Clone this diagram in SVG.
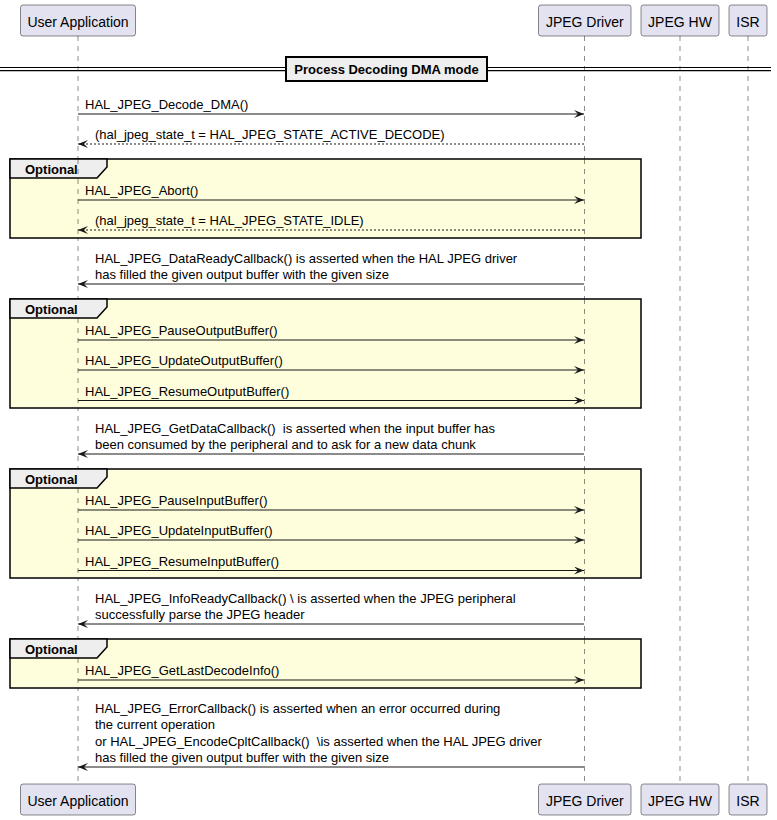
<svg xmlns="http://www.w3.org/2000/svg" width="777" height="820" viewBox="0 0 777 820">
<defs>
<style>
text{font-family:"Liberation Sans",Arial,sans-serif;fill:#000}
.msg{font-size:13px}
.pt{font-size:14px;text-anchor:middle}
.b{font-weight:bold;font-size:13px}
.part{fill:#E2E2F0;stroke:#181818;stroke-width:0.5}
.life{stroke:#181818;stroke-width:0.5;stroke-dasharray:5,5}
.grp{fill:#FEFEDD;stroke:#000;stroke-width:1.5}
.tab{fill:#EEEEEE;stroke:#000;stroke-width:1.5}
.ar{stroke:#181818;stroke-width:1;fill:none;marker-end:url(#ah)}
.ret{stroke:#181818;stroke-width:1;fill:none;stroke-dasharray:2,2;marker-end:url(#ah)}
</style>
<marker id="ah" markerUnits="userSpaceOnUse" markerWidth="11" markerHeight="9" refX="10" refY="4" orient="auto" viewBox="0 0 11 9">
<path d="M0,0 L10,4 L0,8 L4,4 Z" fill="#181818"/>
</marker>
</defs>
<rect width="777" height="820" fill="#FFFFFF"/>

<g id="lifelines">
<line class="life" x1="78" y1="36" x2="78" y2="784"/>
<line class="life" x1="584.5" y1="36" x2="584.5" y2="784"/>
<line class="life" x1="680" y1="36" x2="680" y2="784"/>
<line class="life" x1="748" y1="36" x2="748" y2="784"/>
</g>

<g id="divider">
<line x1="0" y1="67.5" x2="771" y2="67.5" stroke="#000" stroke-width="1.2"/>
<line x1="0" y1="70.7" x2="771" y2="70.7" stroke="#000" stroke-width="1.2"/>
<rect x="286" y="57" width="201" height="24" fill="#EEEEEE" stroke="#000" stroke-width="2"/>
<text class="b" x="386.5" y="74" text-anchor="middle">Process Decoding DMA mode</text>
</g>

<g id="group1">
<rect class="grp" x="10" y="159" width="631" height="79"/>
<path class="tab" d="M10,159 L107,159 L107,167 L97,178 L10,178 Z"/>
<text class="b" x="25" y="173.5">Optional</text>
</g>
<g id="group2">
<rect class="grp" x="10" y="299" width="631" height="109"/>
<path class="tab" d="M10,299 L107,299 L107,307 L97,318 L10,318 Z"/>
<text class="b" x="25" y="313.5">Optional</text>
</g>
<g id="group3">
<rect class="grp" x="10" y="469" width="631" height="109"/>
<path class="tab" d="M10,469 L107,469 L107,477 L97,488 L10,488 Z"/>
<text class="b" x="25" y="483.5">Optional</text>
</g>
<g id="group4">
<rect class="grp" x="10" y="639" width="631" height="49"/>
<path class="tab" d="M10,639 L107,639 L107,647 L97,658 L10,658 Z"/>
<text class="b" x="25" y="653.5">Optional</text>
</g>

<g id="lifelines-over">
<line class="life" x1="78" y1="159" x2="78" y2="238"/>
<line class="life" x1="584.5" y1="159" x2="584.5" y2="238"/>
<line class="life" x1="78" y1="318" x2="78" y2="408"/>
<line class="life" x1="584.5" y1="299" x2="584.5" y2="408"/>
<line class="life" x1="78" y1="488" x2="78" y2="578"/>
<line class="life" x1="584.5" y1="469" x2="584.5" y2="578"/>
<line class="life" x1="78" y1="658" x2="78" y2="688"/>
<line class="life" x1="584.5" y1="639" x2="584.5" y2="688"/>
</g>

<g id="connectors">
<line class="ar" x1="78" y1="114" x2="584" y2="114"/>
<line class="ret" x1="584" y1="144" x2="78" y2="144"/>
<line class="ar" x1="78" y1="200" x2="584" y2="200"/>
<line class="ret" x1="584" y1="230" x2="78" y2="230"/>
<line class="ar" x1="584" y1="284" x2="78" y2="284"/>
<line class="ar" x1="78" y1="340" x2="584" y2="340"/>
<line class="ar" x1="78" y1="370" x2="584" y2="370"/>
<line class="ar" x1="78" y1="400.5" x2="584" y2="400.5"/>
<line class="ar" x1="584" y1="454" x2="78" y2="454"/>
<line class="ar" x1="78" y1="510" x2="584" y2="510"/>
<line class="ar" x1="78" y1="540" x2="584" y2="540"/>
<line class="ar" x1="78" y1="570.5" x2="584" y2="570.5"/>
<line class="ar" x1="584" y1="624" x2="78" y2="624"/>
<line class="ar" x1="78" y1="680" x2="584" y2="680"/>
<line class="ar" x1="584" y1="767" x2="78" y2="767"/>
</g>

<g id="labels">
<text class="msg" x="85" y="109">HAL_JPEG_Decode_DMA()</text>
<text class="msg" x="95" y="139">(hal_jpeg_state_t = HAL_JPEG_STATE_ACTIVE_DECODE)</text>
<text class="msg" x="85" y="195">HAL_JPEG_Abort()</text>
<text class="msg" x="95" y="225">(hal_jpeg_state_t = HAL_JPEG_STATE_IDLE)</text>
<text class="msg" x="95" y="262.5">HAL_JPEG_DataReadyCallback() is asserted when the HAL JPEG driver</text>
<text class="msg" x="95" y="279">has filled the given output buffer with the given size</text>
<text class="msg" x="85" y="335">HAL_JPEG_PauseOutputBuffer()</text>
<text class="msg" x="85" y="365">HAL_JPEG_UpdateOutputBuffer()</text>
<text class="msg" x="85" y="395.5">HAL_JPEG_ResumeOutputBuffer()</text>
<text class="msg" x="95" y="432.5" xml:space="preserve">HAL_JPEG_GetDataCallback()  is asserted when the input buffer has</text>
<text class="msg" x="95" y="449">been consumed by the peripheral and to ask for a new data chunk</text>
<text class="msg" x="85" y="505">HAL_JPEG_PauseInputBuffer()</text>
<text class="msg" x="85" y="535">HAL_JPEG_UpdateInputBuffer()</text>
<text class="msg" x="85" y="565.5">HAL_JPEG_ResumeInputBuffer()</text>
<text class="msg" x="95" y="602.5">HAL_JPEG_InfoReadyCallback() \ is asserted when the JPEG peripheral</text>
<text class="msg" x="95" y="619">successfully parse the JPEG header</text>
<text class="msg" x="85" y="675">HAL_JPEG_GetLastDecodeInfo()</text>
<text class="msg" x="95" y="712.5">HAL_JPEG_ErrorCallback() is asserted when an error occurred during</text>
<text class="msg" x="95" y="729">the current operation</text>
<text class="msg" x="95" y="745.5" xml:space="preserve">or HAL_JPEG_EncodeCpltCallback()  \is asserted when the HAL JPEG driver</text>
<text class="msg" x="95" y="762">has filled the given output buffer with the given size</text>
</g>

<g id="user-application">
<rect class="part" x="20.5" y="5" width="115" height="31" rx="2.5"/>
<text class="pt" x="78" y="26.5">User Application</text>
<rect class="part" x="20.5" y="784" width="115" height="31" rx="2.5"/>
<text class="pt" x="78" y="805.5">User Application</text>
</g>
<g id="jpeg-driver">
<rect class="part" x="538.5" y="5" width="92.5" height="31" rx="2.5"/>
<text class="pt" x="584.8" y="26.5">JPEG Driver</text>
<rect class="part" x="538.5" y="784" width="92.5" height="31" rx="2.5"/>
<text class="pt" x="584.8" y="805.5">JPEG Driver</text>
</g>
<g id="jpeg-hw">
<rect class="part" x="641" y="5" width="78" height="31" rx="2.5"/>
<text class="pt" x="680" y="26.5">JPEG HW</text>
<rect class="part" x="641" y="784" width="78" height="31" rx="2.5"/>
<text class="pt" x="680" y="805.5">JPEG HW</text>
</g>
<g id="isr">
<rect class="part" x="729" y="5" width="38" height="31" rx="2.5"/>
<text class="pt" x="748" y="26.5">ISR</text>
<rect class="part" x="729" y="784" width="38" height="31" rx="2.5"/>
<text class="pt" x="748" y="805.5">ISR</text>
</g>
</svg>
